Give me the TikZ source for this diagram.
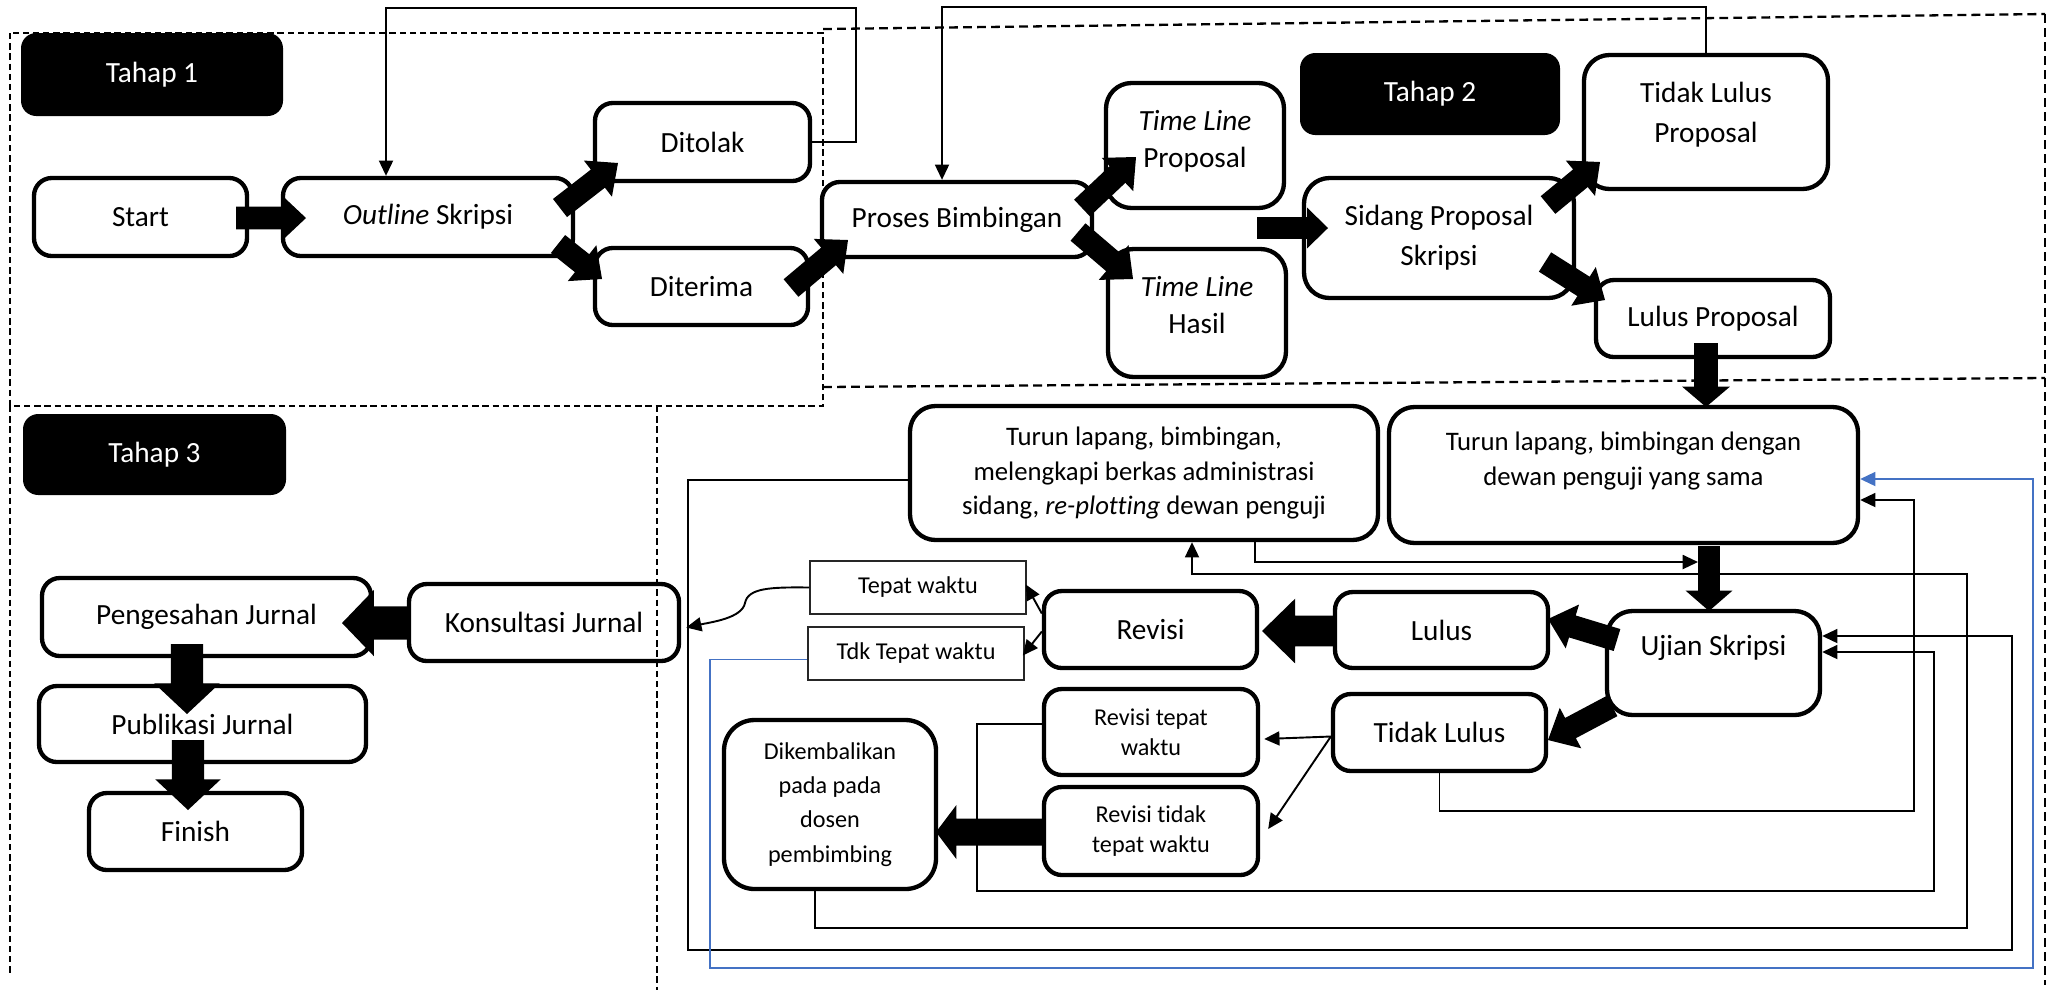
\documentclass[tikz,border=0pt]{standalone}
\usepackage{fontspec}
\setmainfont{Carlito}[Ligatures=NoCommon]
\usetikzlibrary{arrows.meta,calc}
\definecolor{wblue}{RGB}{68,114,196}
\newcommand{\fatarr}[5]{%
  \coordinate (fah) at ($(#2)!#5!(#1)$);
  \fill ($(#1)!#3!90:(#2)$) -- ($(fah)!#3!-90:(#1)$) -- ($(fah)!#4!-90:(#1)$) -- (#2)
     -- ($(fah)!#4!90:(#1)$) -- ($(fah)!#3!90:(#1)$) -- ($(#1)!#3!-90:(#2)$) -- cycle;}
\tikzset{
  bb/.style n args={4}{minimum width={(#3-#1)*0.3927pt}, minimum height={(#4-#2)*0.3927pt},
    at={({(#1+#3)/2},{(#2+#4)/2})}},
  box/.style={draw, line width=1.7pt, rounded corners=7pt, inner sep=0pt, align=center,
    font=\fontsize{11.5}{14}\selectfont},
  bigbox/.style={box, rounded corners=10pt},
  tbox/.style={draw=black!85, line width=0.6pt, inner sep=0pt, align=center,
    font=\fontsize{9.5}{11}\selectfont},
  tahap/.style={fill=black, rounded corners=6pt, inner sep=0pt, text=white,
    font=\fontsize{11.5}{14}\selectfont},
  txt/.style={inner sep=0pt, align=center},
  conn/.style={line width=0.75pt, -{Triangle[length=6pt,width=5.5pt]}},
  bconn/.style={conn, draw=wblue},
  dsh/.style={dash pattern=on 2.5pt off 1.5pt, line width=0.6pt},
  dshb/.style={dash pattern=on 3.5pt off 2pt, line width=0.9pt},
}
\begin{document}
\begin{tikzpicture}[x=0.3927pt, y=-0.3927pt]
\useasboundingbox (0,0) rectangle (2054,994);

% dashed stage frames
\draw[dsh] (10,33) rectangle (823,406);
\draw[dshb] (823,29) -- (2045,14);
\draw[dshb] (2045,14) -- (2045,985);
\draw[dshb] (823,387) -- (2045,378);
\draw[dsh] (10,406) -- (10,976);
\draw[dsh] (657,406) -- (657,990);

% stage labels
\node[tahap, bb={21}{33}{283}{116}] (t1) {Tahap 1};
\node[tahap, bb={1300}{53}{1560}{135}] (t2) {Tahap 2};
\node[tahap, bb={23}{414}{286}{495}] (t3) {Tahap 3};

% Tahap 1
\node[box, bb={34}{178}{247}{256}] (start) {Start};
\node[box, bb={283}{178}{573}{256}] (outline) {\textit{Outline} Skripsi};
\node[box, bb={595}{103}{810}{181}] (ditolak) {Ditolak};
\node[box, bb={595}{248}{808}{325}] (diterima) {Diterima};

% Tahap 2
\node[box, bb={822}{182}{1092}{257}] (proses) {Proses Bimbingan};
\node[bigbox, bb={1106}{83}{1284}{208}] (tlp) {};
\node[txt, font=\fontsize{11.5}{14.5}\selectfont] (tlpt) at ($(tlp.center)+(0,-4)$) {\textit{Time Line}\\Proposal};
\node[bigbox, bb={1108}{249}{1286}{377}] (tlh) {};
\node[txt, font=\fontsize{11.5}{14.5}\selectfont] (tlht) at ($(tlh.center)+(0,-8)$) {\textit{Time Line}\\Hasil};
\node[bigbox, bb={1304}{178}{1574}{298}, font=\fontsize{11.5}{15.7}\selectfont] (sidang) {Sidang Proposal\\Skripsi};
\node[bigbox, bb={1584}{55}{1828}{189}] (tlprop) {};
\node[txt, font=\fontsize{11.5}{15.7}\selectfont] (tlpropt) at ($(tlprop.center)+(0,-7)$) {Tidak Lulus\\Proposal};
\node[box, bb={1596}{280}{1830}{357}] (lprop) {Lulus Proposal};

% lower area
\node[bigbox, bb={910}{406}{1378}{540}, font=\fontsize{10.5}{13.4}\selectfont] (turL)
  {Turun lapang, bimbingan,\\melengkapi berkas administrasi\\sidang, \textit{re-plotting} dewan penguji};
\node[bigbox, bb={1389}{407}{1858}{543}] (turR) {};
\node[txt, font=\fontsize{10.5}{13.4}\selectfont] (turRt) at ($(turR.center)+(0,-14)$)
  {Turun lapang, bimbingan dengan\\dewan penguji yang sama};
\node[bigbox, bb={1607}{611}{1820}{715}] (ujian) {};
\node[txt, font=\fontsize{11.5}{14}\selectfont] (ujiant) at ($(ujian.center)+(0,-15)$) {Ujian Skripsi};
\node[box, bb={1335}{592}{1548}{668}] (lulus) {Lulus};
\node[box, bb={1333}{694}{1546}{771}] (tidak) {Tidak Lulus};
\node[box, bb={1044}{591}{1257}{668}] (revisi) {Revisi};
\node[tbox, bb={810}{561}{1026}{614}] (tepat) {Tepat waktu};
\node[tbox, bb={808}{627}{1024}{680}] (tdk) {Tdk Tepat waktu};
\node[box, bb={1044}{689}{1258}{775}, font=\fontsize{9.5}{11.6}\selectfont] (rtw) {Revisi tepat\\waktu};
\node[box, bb={1044}{787}{1258}{875}, font=\fontsize{9.5}{11.6}\selectfont] (rttw) {Revisi tidak\\tepat waktu};
\node[bigbox, rounded corners=12pt, bb={724}{720}{936}{889}, font=\fontsize{9.5}{13.4}\selectfont] (dik)
  {Dikembalikan\\pada pada\\dosen\\pembimbing};
\node[box, bb={42}{578}{371}{656}] (peng) {Pengesahan Jurnal};
\node[box, bb={409}{584}{679}{661}] (kons) {Konsultasi Jurnal};
\node[box, bb={39}{686}{366}{762}] (pub) {Publikasi Jurnal};
\node[box, bb={89}{793}{302}{870}] (fin) {Finish};

% fat arrows
\coordinate (f1a) at (236,218);  \coordinate (f1b) at (306,218);
\coordinate (f2a) at (560,208);  \coordinate (f2b) at (618,163);
\coordinate (f3a) at (558,244);  \coordinate (f3b) at (602,279);
\coordinate (f4a) at (791,288);  \coordinate (f4b) at (848,240);
\coordinate (f5a) at (1082,208); \coordinate (f5b) at (1136,157);
\coordinate (f6a) at (1078,232); \coordinate (f6b) at (1133,279);
\coordinate (f7a) at (1257,228); \coordinate (f7b) at (1328,228);
\coordinate (f8a) at (1548,205); \coordinate (f8b) at (1600,162);
\coordinate (f9a) at (1545,262); \coordinate (f9b) at (1605,300);
\coordinate (f10a) at (1706,343); \coordinate (f10b) at (1706,407);
\coordinate (f11a) at (1709,546); \coordinate (f11b) at (1709,611);
\coordinate (f12a) at (1617,640); \coordinate (f12b) at (1548,619);
\coordinate (f13a) at (1612,706); \coordinate (f13b) at (1548,740);
\coordinate (f14a) at (1335,631); \coordinate (f14b) at (1262,631);
\coordinate (f15a) at (1044,832); \coordinate (f15b) at (936,832);
\coordinate (f16a) at (409,623);  \coordinate (f16b) at (342,623);
\coordinate (f17a) at (187,644);  \coordinate (f17b) at (187,714);
\coordinate (f18a) at (188,740);  \coordinate (f18b) at (188,810);
\fatarr{f1a}{f1b}{4.5pt}{8pt}{8.5pt}
\fatarr{f2a}{f2b}{4.5pt}{9pt}{10pt}
\fatarr{f3a}{f3b}{4.5pt}{9pt}{10pt}
\fatarr{f4a}{f4b}{4.5pt}{9pt}{10pt}
\fatarr{f5a}{f5b}{4.5pt}{9pt}{10pt}
\fatarr{f6a}{f6b}{4.5pt}{9pt}{10pt}
\fatarr{f7a}{f7b}{4.3pt}{8pt}{8.2pt}
\fatarr{f8a}{f8b}{4.5pt}{9pt}{10pt}
\fatarr{f9a}{f9b}{4.5pt}{9pt}{10pt}
\fatarr{f10a}{f10b}{4.7pt}{9.4pt}{8pt}
\fatarr{f11a}{f11b}{4.3pt}{9.2pt}{8pt}
\fatarr{f12a}{f12b}{4.5pt}{9pt}{10pt}
\fatarr{f13a}{f13b}{4.5pt}{9pt}{10pt}
\fatarr{f14a}{f14b}{6pt}{12.7pt}{13pt}
\fatarr{f15a}{f15b}{5.3pt}{10.6pt}{8pt}
\fatarr{f16a}{f16b}{6.5pt}{13pt}{12.5pt}
\fatarr{f17a}{f17b}{6.3pt}{12.8pt}{12pt}
\fatarr{f18a}{f18b}{6.3pt}{12.8pt}{12pt}

% thin connectors
\draw[conn] (ditolak.east) -- ++(44,0) |- (386,8) -- (386,8 |- outline.north);
\draw[conn] (tlprop.north) |- (942,7) -- (942,7 |- proses.north);
\draw[conn] ($(revisi.west)+(0,-16)$) -- ($(tepat.east)+(-1,-3)$);
\draw[conn] ($(revisi.west)+(0,2)$) -- ($(tdk.east)+(-2,2)$);
\draw[conn] (tepat.west) .. controls (770,587) and (748,588) .. (745,603)
   .. controls (742,618) and (712,622) .. ($(kons.east)+(5,5)$);
\draw[conn] ($(tidak.west)+(0,4)$) -- ($(rtw.east)+(4,7)$);
\draw[conn] ($(tidak.west)+(0,4)$) -- ($(rttw.east)+(8,-2)$);
\draw[conn] ($(rtw.west)+(0,-8)$) -| (977,891) -| (1934,652) -- (ujian.east |- 0,652);
\draw[conn] ($(dik.south)+(-15,0)$) |- (1967,928) |- (1192,574) -- (1192,574 |- turL.south);
\draw[conn] ($(turL.west)+(0,7)$) -| (688,950) -| (2012,636) -- (ujian.east |- 0,636);
\draw[bconn] ($(tdk.west)+(0,6)$) -| (710,968) -| (2033,479) -- (turR.east |- 0,479);
\draw[conn] (tidak.south) |- (1914,811) |- (turR.east |- 0,500);
\draw[conn] ($(turL.south)+(111,0)$) |- (1698,562);
\end{tikzpicture}
\end{document}
